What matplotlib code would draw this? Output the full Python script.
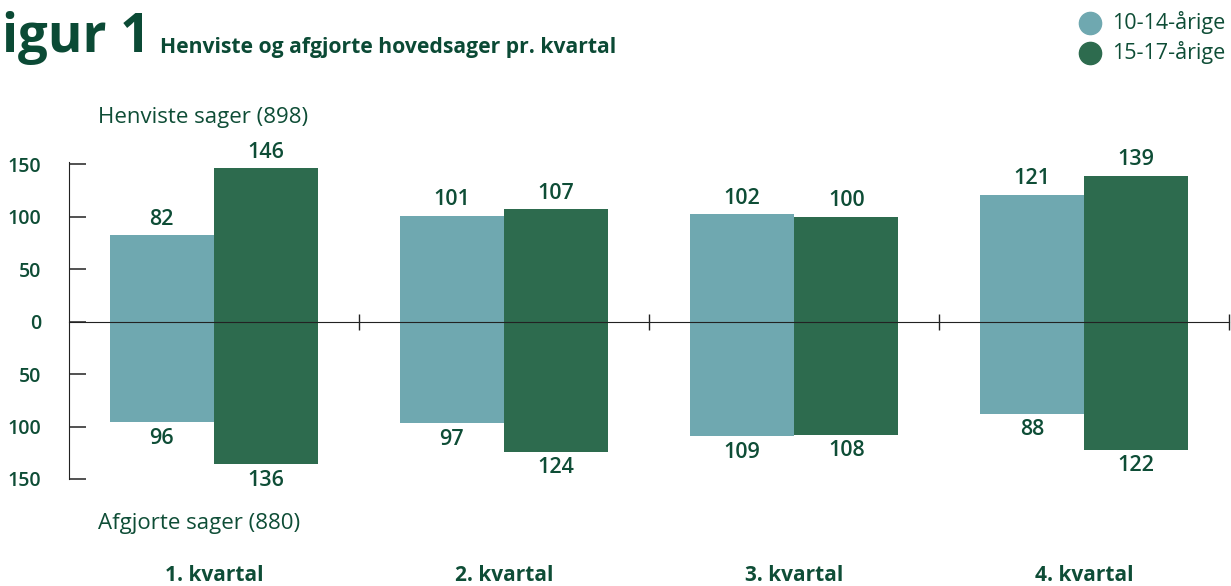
import numpy as np
from matplotlib import pyplot as plt
from matplotlib.lines import Line2D

kvartaler = ["1. kvartal", "2. kvartal", "3. kvartal", "4. kvartal"]
henvist_10_14 = [82, 101, 102, 121]
henvist_15_17 = [146, 107, 100, 139]
afgjort_10_14 = [96, 97, 109, 88]
afgjort_15_17 = [136, 124, 108, 122]
y_ticks = [-150, -100, -50, 0, 50, 100, 150]

LYS = "#6fa8b0"
MORK = "#2d6b4e"
TEKST = "#0e4d36"

plt.rcParams['font.family'] = ['Open Sans', 'DejaVu Sans']

fig = plt.figure(figsize=(12.31, 5.86), dpi=100)
ax = fig.add_axes([69 / 1231, 1 - 479 / 586, 1160 / 1231, 317 / 586])

x = np.arange(len(kvartaler)) + 0.5
w = 0.36
ax.bar(x - w / 2, henvist_10_14, w, color=LYS, zorder=2)
ax.bar(x + w / 2, henvist_15_17, w, color=MORK, zorder=2)
ax.bar(x - w / 2, -np.array(afgjort_10_14), w, color=LYS, zorder=2)
ax.bar(x + w / 2, -np.array(afgjort_15_17), w, color=MORK, zorder=2)

for xs, vals in [(x - w / 2, henvist_10_14), (x + w / 2, henvist_15_17)]:
    for xi, v in zip(xs, vals):
        ax.annotate(str(v), (xi, v), xytext=(0, 4), textcoords="offset points",
                    ha="center", va="bottom", fontsize=15.5, color=TEKST, fontweight="semibold")
for xs, vals in [(x - w / 2, afgjort_10_14), (x + w / 2, afgjort_15_17)]:
    for xi, v in zip(xs, vals):
        ax.annotate(str(v), (xi, -v), xytext=(0, -4), textcoords="offset points",
                    ha="center", va="top", fontsize=15.5, color=TEKST, fontweight="semibold")

ax.set_xlim(0, 4)
ax.set_ylim(-148, 152)
ax.set_yticks(y_ticks)
ax.set_yticklabels([str(abs(t)) for t in y_ticks], fontsize=14, color=TEKST,
                   fontweight="semibold")
ax.tick_params(axis="y", direction="in", length=12, width=1.2, pad=20, color="#333333")

ax.spines["top"].set_visible(False)
ax.spines["right"].set_visible(False)
ax.spines["left"].set_color("#222222")
ax.spines["bottom"].set_position(("data", 0))
ax.spines["bottom"].set_color("#222222")
ax.spines["bottom"].set_zorder(3)
ax.set_xticks([1, 2, 3, 4])
ax.set_xticklabels([])
ax.tick_params(axis="x", direction="inout", length=12, width=1.0, color="#222222")

for xi, navn in zip(x, kvartaler):
    ax.text(xi, -0.303, navn, transform=ax.get_xaxis_transform(), ha="center", va="center",
            fontsize=15, fontweight="bold", color=TEKST)

fig.text(98 / 1231, 1 - 117 / 586, "Henviste sager (898)", ha="left", va="center",
         fontsize=16, color=TEKST)
fig.text(98 / 1231, 1 - 523 / 586, "Afgjorte sager (880)", ha="left", va="center",
         fontsize=16, color=TEKST)

fig.text(150 / 1231, 1 - 38 / 586, "Figur 1", ha="right", va="center",
         fontsize=38, fontweight="bold", color="#0b4a35")
fig.text(160 / 1231, 1 - 48 / 586, "Henviste og afgjorte hovedsager pr. kvartal", ha="left",
         va="center", fontsize=15.2, fontweight="bold", color="#0b4a35")

for yy, navn, c in [(23, "10-14-årige", LYS), (53, "15-17-årige", MORK)]:
    fig.add_artist(Line2D([1090 / 1231], [1 - yy / 586], marker="o", markersize=16,
                          color=c, linestyle="none", transform=fig.transFigure))
    fig.text(1112 / 1231, 1 - yy / 586, navn, ha="left", va="center", fontsize=15.5, color=TEKST)

fig.savefig("out.png", dpi=100)
